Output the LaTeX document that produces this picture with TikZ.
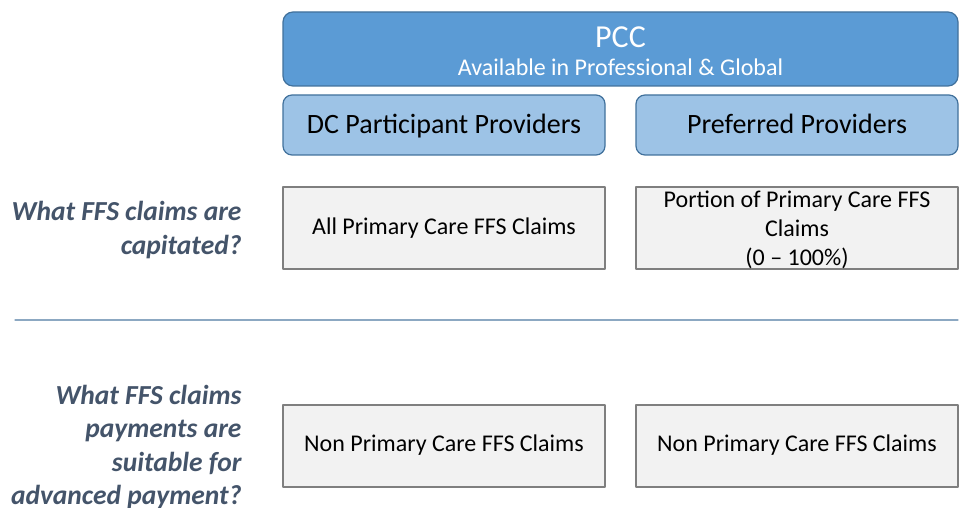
\documentclass[tikz,border=0pt]{standalone}
\usepackage{fontspec}
\setmainfont{Carlito}
\usetikzlibrary{positioning}

\definecolor{pccblue}{HTML}{5B9BD5}
\definecolor{pccedge}{HTML}{41719C}
\definecolor{provblue}{HTML}{9DC3E6}
\definecolor{claimgray}{HTML}{F2F2F2}
\definecolor{claimedge}{HTML}{7F7F7F}
\definecolor{askcolor}{HTML}{44546A}
\definecolor{rulecolor}{HTML}{8CA8C2}

\tikzset{
  headbox/.style={draw=pccedge, line width=1.2pt, fill=pccblue, rounded corners=10pt,
    text=white, align=center, inner sep=0pt},
  provbox/.style={draw=pccedge, line width=1.2pt, fill=provblue, rounded corners=9pt,
    minimum width=322pt, minimum height=60pt, inner sep=0pt, text height=21pt, text depth=4pt,
    font=\fontsize{28}{32}\selectfont},
  claimbox/.style={draw=claimedge, line width=2pt, fill=claimgray, minimum width=322pt,
    minimum height=82pt, inner sep=0pt, align=center, font=\fontsize{24}{29}\selectfont},
  askline/.style={anchor=east, align=right, text=askcolor,
    font=\fontsize{27.5}{33.4}\selectfont\bfseries\itshape}
}

\begin{document}
\begin{tikzpicture}[line cap=round,line join=round,x=1pt,y=-1pt]
\useasboundingbox (0,0) rectangle (959,508);
% header and provider groups
\node[headbox, minimum width=675pt, minimum height=74pt] (pcc) at (620.5,49)
  {{\fontsize{32}{34}\selectfont\rule{0pt}{26pt}PCC}\\[10pt]{\fontsize{24}{26}\selectfont Available in Professional \& Global}};
\node[provbox] (dcprov) at (444,125) {DC Participant Providers};
\node[provbox] (prefprov) at (797,125) {Preferred Providers};
% capitated claims
\node[claimbox] (dccap) at (444,228) {\rule{0pt}{4pt}All Primary Care FFS Claims};
\node[claimbox] (prefcap) at (797,228) {\rule{0pt}{20pt}Portion of Primary Care FFS\\Claims\\(0 -- 100\%)};
\node[askline] (askcap) at (245,230) {What FFS claims are\\capitated?};
% separator
\coordinate (ruleL) at (15,320);
\coordinate (ruleR) at (958,320);
\draw[rulecolor, line width=1.2pt] (ruleL) -- (ruleR);
% advanced payment claims
\node[claimbox] (dcadv) at (444,445.5) {Non Primary Care FFS Claims};
\node[claimbox] (prefadv) at (797,445.5) {Non Primary Care FFS Claims};
\node[askline] (askadv) at (245,447) {What FFS claims\\payments are\\suitable for\\advanced payment?};
\end{tikzpicture}
\end{document}
